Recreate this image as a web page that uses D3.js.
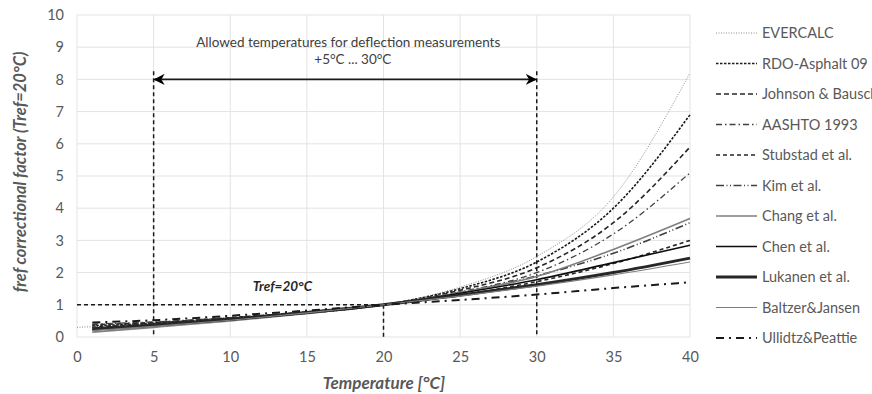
<!DOCTYPE html>
<html>
<head>
<meta charset="utf-8">
<script src="https://cdn.jsdelivr.net/npm/d3@7/dist/d3.min.js"></script>
<style>
  body { margin: 0; background: #fff; }
  svg { display: block; font-family: Lato, "Open Sans", sans-serif; }
</style>
</head>
<body>
<svg id="chart" width="872" height="394"></svg>
<script>
const temps = [1, 5, 10, 15, 20, 25, 30, 35, 40]
const evercalcTemps = [0, 1, 5, 10, 15, 20, 25, 30, 35, 40]

// correction factors per method
const evercalc = [0.30, 0.32, 0.38, 0.52, 0.72, 1, 1.55, 2.5, 4.35, 8.2]
const rdoAsphalt = [0.35, 0.42, 0.55, 0.74, 1, 1.5, 2.33, 4.0, 6.9]
const johnsonBausch = [0.38, 0.45, 0.58, 0.76, 1, 1.45, 2.15, 3.55, 5.9]
const aashto = [0.40, 0.47, 0.60, 0.78, 1, 1.4, 2.0, 3.2, 5.1]
const stubstad = [0.30, 0.43, 0.60, 0.78, 1, 1.3, 1.72, 2.28, 3.0]
const kim = [0.28, 0.40, 0.55, 0.74, 1, 1.38, 1.9, 2.6, 3.55]
const chang = [0.15, 0.30, 0.50, 0.73, 1, 1.38, 1.88, 2.72, 3.68]
const chen = [0.22, 0.35, 0.53, 0.75, 1, 1.36, 1.78, 2.31, 2.85]
const lukanen = [0.25, 0.37, 0.55, 0.76, 1, 1.3, 1.62, 2.0, 2.45]
const baltzer = [0.20, 0.33, 0.52, 0.75, 1, 1.27, 1.58, 1.93, 2.33]
const ullidtz = [0.45, 0.52, 0.66, 0.82, 1, 1.15, 1.32, 1.52, 1.7]

const xTicks = [0, 5, 10, 15, 20, 25, 30, 35, 40]
const yTicks = [0, 1, 2, 3, 4, 5, 6, 7, 8, 9, 10]

const series = [
  {name: "EVERCALC", t: evercalcTemps, v: evercalc, color: "#8c8c8c", width: 1, dash: "1,1.5"},
  {name: "RDO-Asphalt 09", t: temps, v: rdoAsphalt, color: "#1a1a1a", width: 1.6, dash: "2.5,1.5"},
  {name: "Johnson & Bausch", t: temps, v: johnsonBausch, color: "#262626", width: 1.6, dash: "5,3"},
  {name: "AASHTO 1993", t: temps, v: aashto, color: "#404040", width: 1.3, dash: "6,3,1.5,3"},
  {name: "Stubstad et al.", t: temps, v: stubstad, color: "#262626", width: 1.6, dash: "4,3"},
  {name: "Kim et al.", t: temps, v: kim, color: "#404040", width: 1.6, dash: "8,2.5,1,2.5,1,2.5"},
  {name: "Chang et al.", t: temps, v: chang, color: "#7f7f7f", width: 1.6, dash: null},
  {name: "Chen et al.", t: temps, v: chen, color: "#0d0d0d", width: 1.6, dash: null},
  {name: "Lukanen et al.", t: temps, v: lukanen, color: "#262626", width: 3, dash: null},
  {name: "Baltzer&Jansen", t: temps, v: baltzer, color: "#7f7f7f", width: 1.1, dash: null},
  {name: "Ullidtz&Peattie", t: temps, v: ullidtz, color: "#1a1a1a", width: 2, dash: "8,5,2,5"}
]

const svg = d3.select("#chart")
const margins = {left: 77, top: 15, right: 182, bottom: 57}
const innerW = 872 - margins.left - margins.right
const innerH = 394 - margins.top - margins.bottom

const x = d3.scaleLinear().domain([0, 40]).range([margins.left, margins.left + innerW])
const y = d3.scaleLinear().domain([0, 10]).range([margins.top + innerH, margins.top])

const textColor = "#595959"

// grid
svg.append("g")
  .selectAll("line.h")
  .data(yTicks)
  .join("line")
  .attr("x1", x(0)).attr("x2", x(40))
  .attr("y1", d => y(d)).attr("y2", d => y(d))
  .attr("stroke", "#e3e3e3").attr("stroke-width", 1)

svg.append("g")
  .selectAll("line.v")
  .data(xTicks)
  .join("line")
  .attr("x1", d => x(d)).attr("x2", d => x(d))
  .attr("y1", y(0)).attr("y2", y(10))
  .attr("stroke", "#e3e3e3").attr("stroke-width", 1)

// axes (labels only, like the Excel original)
const xAxis = svg.append("g")
  .attr("transform", `translate(0, ${y(0)})`)
  .call(d3.axisBottom(x).tickValues(xTicks).tickSize(0).tickPadding(15))
xAxis.select(".domain").remove()
xAxis.selectAll("text").attr("fill", textColor).attr("font-size", 14.5)
  .attr("font-family", "Lato, sans-serif")

const yAxis = svg.append("g")
  .attr("transform", `translate(${x(0)}, 0)`)
  .call(d3.axisLeft(y).tickValues(yTicks).tickSize(0).tickPadding(13))
yAxis.select(".domain").remove()
yAxis.selectAll("text").attr("fill", textColor).attr("font-size", 14.5)
  .attr("font-family", "Lato, sans-serif")

// axis titles
svg.append("text")
  .attr("x", 384).attr("y", 389)
  .attr("text-anchor", "middle")
  .attr("font-size", 17).attr("font-weight", "bold").attr("font-style", "italic")
  .attr("fill", textColor)
  .text("Temperature [°C]")

svg.append("text")
  .attr("transform", "translate(26, 172) rotate(-90)")
  .attr("text-anchor", "middle")
  .attr("font-size", 16.5).attr("font-weight", "bold").attr("font-style", "italic")
  .attr("fill", textColor)
  .text("fref correctional factor (Tref=20°C)")

// reference lines
const refDash = "4,3"
const refLines = [
  {x1: 5, y1: 8.25, x2: 5, y2: 0},
  {x1: 30, y1: 8.25, x2: 30, y2: 0},
  {x1: 0, y1: 1, x2: 20, y2: 1},
  {x1: 20, y1: 1, x2: 20, y2: 0}
]
svg.append("g")
  .selectAll("line")
  .data(refLines)
  .join("line")
  .attr("x1", d => x(d.x1)).attr("y1", d => y(d.y1))
  .attr("x2", d => x(d.x2)).attr("y2", d => y(d.y2))
  .attr("stroke", "#1a1a1a").attr("stroke-width", 1.5)
  .attr("stroke-dasharray", refDash)

// curves
const line = d3.line()
  .x(d => x(d[0]))
  .y(d => y(d[1]))
  .curve(d3.curveMonotoneX)

svg.append("g")
  .selectAll("path")
  .data(series)
  .join("path")
  .attr("d", s => line(s.t.map((t, i) => [t, s.v[i]])))
  .attr("fill", "none")
  .attr("stroke", s => s.color)
  .attr("stroke-width", s => s.width)
  .attr("stroke-dasharray", s => s.dash)

// double arrow for allowed range
const defs = svg.append("defs")
defs.append("marker")
  .attr("id", "arrow")
  .attr("viewBox", "0 0 10 10")
  .attr("refX", 9).attr("refY", 5)
  .attr("markerWidth", 7).attr("markerHeight", 7)
  .attr("orient", "auto-start-reverse")
  .append("path")
  .attr("d", "M0,0 L10,5 L0,10 L3,5 Z")
  .attr("fill", "#000")

svg.append("line")
  .attr("x1", x(5) + 1).attr("x2", x(30) - 1)
  .attr("y1", y(8)).attr("y2", y(8))
  .attr("stroke", "#1a1a1a").attr("stroke-width", 1.6)
  .attr("marker-start", "url(#arrow)")
  .attr("marker-end", "url(#arrow)")

svg.append("text")
  .attr("x", x(17.7)).attr("y", y(9.0))
  .attr("text-anchor", "middle").attr("font-size", 13.5)
  .attr("fill", "#404040")
  .text("Allowed temperatures for deflection measurements")

svg.append("text")
  .attr("x", x(18)).attr("y", y(8.47))
  .attr("text-anchor", "middle").attr("font-size", 13.5)
  .attr("fill", "#404040")
  .text("+5°C ... 30°C")

svg.append("text")
  .attr("x", x(13.4)).attr("y", y(1.42))
  .attr("text-anchor", "middle").attr("font-size", 13.5)
  .attr("font-weight", "bold").attr("font-style", "italic")
  .attr("fill", "#262626")
  .text("Tref=20°C")

// legend
const legend = svg.append("g")
  .selectAll("g")
  .data(series)
  .join("g")
  .attr("transform", (d, i) => `translate(716, ${33 + i * 30.5})`)

legend.append("line")
  .attr("x1", 0).attr("x2", 41)
  .attr("stroke", s => s.color)
  .attr("stroke-width", s => s.width)
  .attr("stroke-dasharray", s => s.dash)

legend.append("text")
  .attr("x", 46).attr("dy", "0.35em")
  .attr("font-size", 14.5).attr("fill", textColor)
  .text(s => s.name)
</script>
</body>
</html>
